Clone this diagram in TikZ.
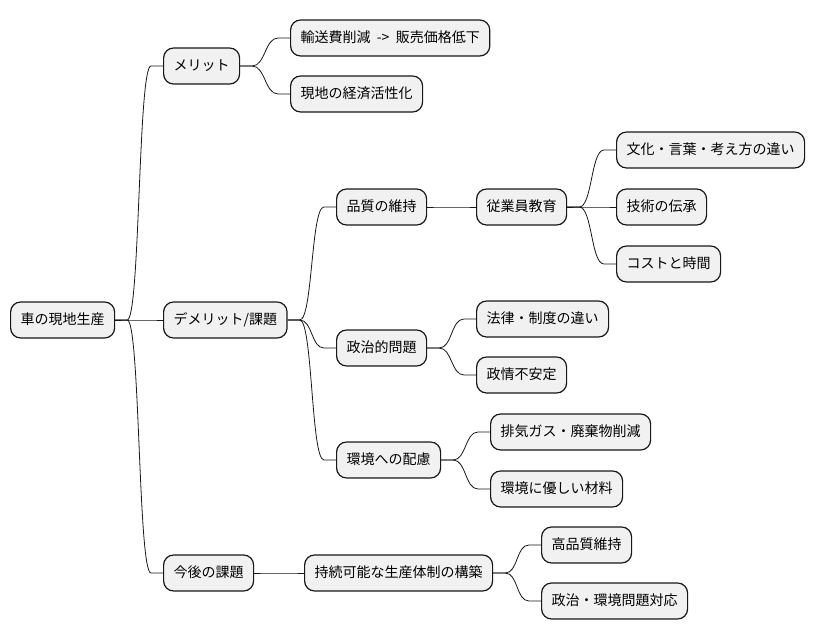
\documentclass[tikz,border=0pt]{standalone}
\usepackage{fontspec}
\setmainfont{Noto Sans CJK JP}[WordSpace=2]
\definecolor{boxfill}{HTML}{F1F1F1}
\definecolor{boxline}{HTML}{181818}
\begin{document}
\begin{tikzpicture}[x=1pt,y=-1pt]
        		\tikzstyle{topic}=[anchor=west,rounded corners=10pt,line width=1.2pt,draw=boxline,fill=boxfill,minimum height=36pt,inner xsep=10pt,text height=11pt,text depth=3pt,font=\fontsize{14}{16}\selectfont]
        		\tikzstyle{branch}=[draw=boxline,line width=0.8pt,to path={-- ++(12,0) .. controls +(13,0) and +(-13,0) .. ([xshift=-12pt]\tikztotarget) -- (\tikztotarget)}]

       			\useasboundingbox (0,0) rectangle (815,640);

			         \node [topic] (root) at (10,320) {車の現地生産};

			         \node [topic] (merit) at (163,66) {メリット};
			         \node [topic] (m1) at (290,38) {輸送費削減 -> 販売価格低下};
			         \node [topic] (m2) at (290,94) {現地の経済活性化};

			         \node [topic] (demerit) at (163,320) {デメリット/課題};
			         \node [topic] (quality) at (336,207) {品質の維持};
			         \node [topic] (edu) at (476,207) {従業員教育};
			         \node [topic] (c1) at (616,150) {文化・言葉・考え方の違い};
			         \node [topic] (c2) at (616,207) {技術の伝承};
			         \node [topic] (c3) at (616,264) {コストと時間};
			         \node [topic] (politics) at (336,348) {政治的問題};
			         \node [topic] (p1) at (476,319) {法律・制度の違い};
			         \node [topic] (p2) at (476,375) {政情不安定};
			         \node [topic] (env) at (336,460) {環境への配慮};
			         \node [topic] (e1) at (490,432) {排気ガス・廃棄物削減};
			         \node [topic] (e2) at (490,489) {環境に優しい材料};

			         \node [topic] (future) at (163,573) {今後の課題};
			         \node [topic] (sustain) at (304,573) {持続可能な生産体制の構築};
			         \node [topic] (s1) at (541,545) {高品質維持};
			         \node [topic] (s2) at (541,601) {政治・環境問題対応};

			 		\path[branch] (root.east) edge (merit.west);
			 		\path[branch] (root.east) edge (demerit.west);
			 		\path[branch] (root.east) edge (future.west);

			 		\path[branch] (merit.east) edge (m1.west);
			 		\path[branch] (merit.east) edge (m2.west);

			 		\path[branch] (demerit.east) edge (quality.west);
			 		\path[branch] (demerit.east) edge (politics.west);
			 		\path[branch] (demerit.east) edge (env.west);
			 		\path[branch] (quality.east) edge (edu.west);
			 		\path[branch] (edu.east) edge (c1.west);
			 		\path[branch] (edu.east) edge (c2.west);
			 		\path[branch] (edu.east) edge (c3.west);
			 		\path[branch] (politics.east) edge (p1.west);
			 		\path[branch] (politics.east) edge (p2.west);
			 		\path[branch] (env.east) edge (e1.west);
			 		\path[branch] (env.east) edge (e2.west);

			 		\path[branch] (future.east) edge (sustain.west);
			 		\path[branch] (sustain.east) edge (s1.west);
			 		\path[branch] (sustain.east) edge (s2.west);
\end{tikzpicture}
\end{document}
